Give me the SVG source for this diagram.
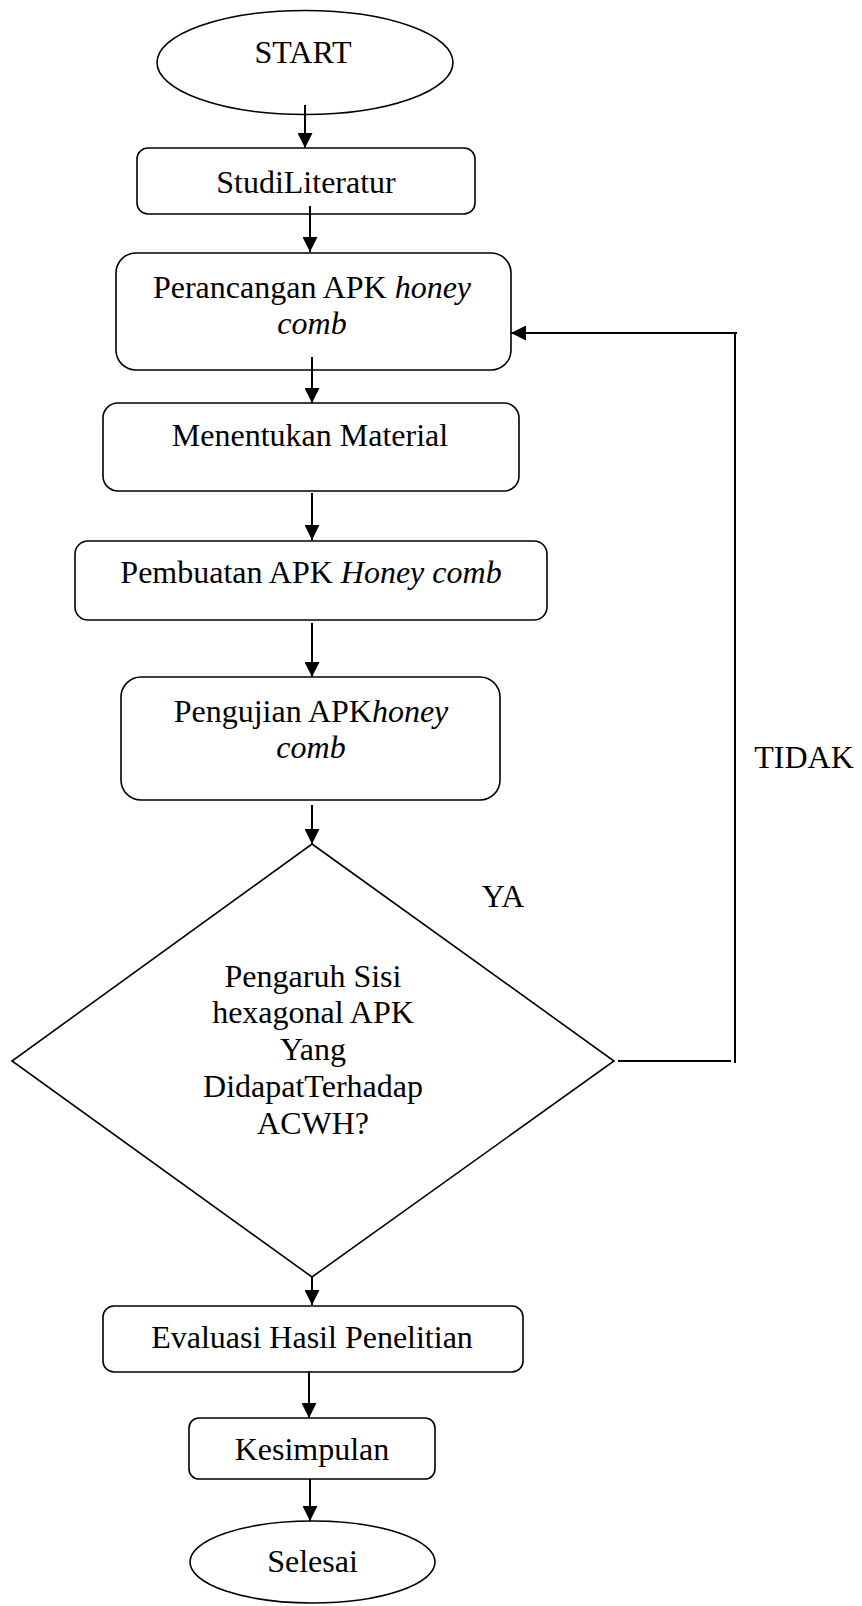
<svg xmlns="http://www.w3.org/2000/svg" width="862" height="1606" viewBox="0 0 862 1606">
<style>
.s{fill:#fff;stroke:#000;stroke-width:1.6}
.t{font-family:"Liberation Serif","Times New Roman",serif;font-size:32px;fill:#000;text-anchor:middle}
.i{font-style:italic}
.c{fill:none;stroke:#000;stroke-width:2}
</style>
<defs>
<marker id="ah" markerUnits="userSpaceOnUse" markerWidth="15" markerHeight="15" refX="15" refY="7.5" orient="auto">
<path d="M0,0 L15,7.5 L0,15 z" fill="#000"/>
</marker>
</defs>
<rect width="862" height="1606" fill="#fff"/>
<g id="start">
<ellipse class="s" cx="305" cy="62.5" rx="148" ry="52"/>
<text class="t" x="303" y="63">START</text>
</g>
<g id="studi">
<rect class="s" x="137" y="148" width="338" height="66" rx="11"/>
<text class="t" x="306" y="193">StudiLiteratur</text>
</g>
<g id="perancangan">
<rect class="s" x="116" y="253" width="395" height="117" rx="20"/>
<text class="t" x="312" y="298">Perancangan APK <tspan class="i">honey</tspan></text>
<text class="t i" x="312" y="334">comb</text>
</g>
<g id="menentukan">
<rect class="s" x="103" y="403" width="416" height="88" rx="15"/>
<text class="t" x="310" y="446">Menentukan Material</text>
</g>
<g id="pembuatan">
<rect class="s" x="75" y="541" width="472" height="79" rx="13"/>
<text class="t" x="311" y="583">Pembuatan APK <tspan class="i">Honey comb</tspan></text>
</g>
<g id="pengujian">
<rect class="s" x="121" y="677" width="379" height="123" rx="20"/>
<text class="t" x="311" y="722">Pengujian APK<tspan class="i">honey</tspan></text>
<text class="t i" x="311" y="758">comb</text>
</g>
<g id="keputusan">
<polygon class="s" points="312,844 614,1061 312,1277 12,1061"/>
<text class="t" x="313" y="987">Pengaruh Sisi</text>
<text class="t" x="313" y="1023">hexagonal APK</text>
<text class="t" x="313" y="1060">Yang</text>
<text class="t" x="313" y="1097">DidapatTerhadap</text>
<text class="t" x="313" y="1134">ACWH?</text>
</g>
<g id="evaluasi">
<rect class="s" x="103" y="1306" width="420" height="66" rx="11"/>
<text class="t" x="312" y="1348">Evaluasi Hasil Penelitian</text>
</g>
<g id="kesimpulan">
<rect class="s" x="189" y="1418" width="246" height="61" rx="10"/>
<text class="t" x="312" y="1460">Kesimpulan</text>
</g>
<g id="selesai">
<ellipse class="s" cx="312.5" cy="1562" rx="122.5" ry="41"/>
<text class="t" x="312.5" y="1572">Selesai</text>
</g>
<g id="labels">
<text class="t" x="503" y="907">YA</text>
<text class="t" x="804" y="768">TIDAK</text>
</g>
<g id="connectors">
<line class="c" x1="305" y1="105" x2="305" y2="148" marker-end="url(#ah)"/>
<line class="c" x1="310" y1="206" x2="310" y2="252" marker-end="url(#ah)"/>
<line class="c" x1="312" y1="357" x2="312" y2="403" marker-end="url(#ah)"/>
<line class="c" x1="312" y1="493" x2="312" y2="540" marker-end="url(#ah)"/>
<line class="c" x1="312" y1="623" x2="312" y2="677" marker-end="url(#ah)"/>
<line class="c" x1="312" y1="805" x2="312" y2="844" marker-end="url(#ah)"/>
<line class="c" x1="312" y1="1277" x2="312" y2="1305" marker-end="url(#ah)"/>
<line class="c" x1="309" y1="1371" x2="309" y2="1418" marker-end="url(#ah)"/>
<line class="c" x1="310" y1="1479" x2="310" y2="1521" marker-end="url(#ah)"/>
<line class="c" x1="618" y1="1061" x2="731" y2="1061"/>
<line class="c" x1="735" y1="333" x2="735" y2="1063"/>
<line class="c" x1="737" y1="333" x2="511" y2="333" marker-end="url(#ah)"/>
</g>
</svg>
